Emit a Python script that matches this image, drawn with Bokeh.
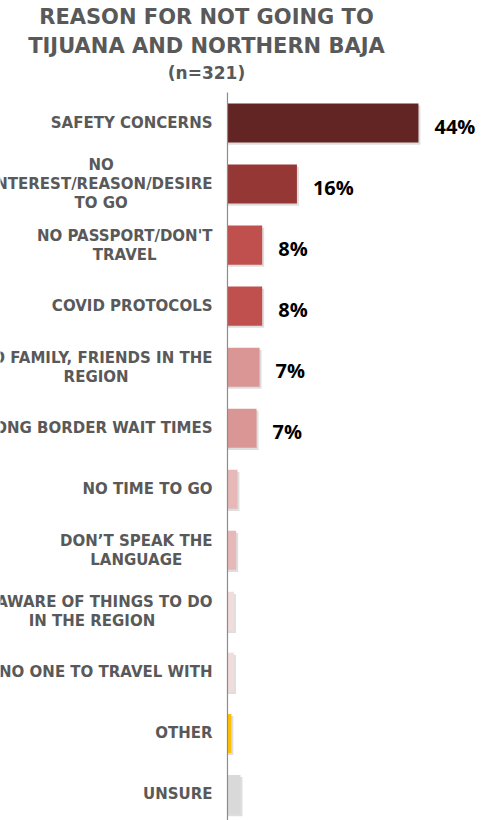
from bokeh.plotting import figure
from bokeh.models import Range1d, Label, ColumnDataSource
from bokeh.embed import file_html
from bokeh.resources import INLINE
from bokeh.core.properties import value
from bokeh.transform import dodge

# ---- data ----
categories = [
    "SAFETY CONCERNS",
    "NO\nINTEREST/REASON/DESIRE\nTO GO",
    "NO PASSPORT/DON'T\nTRAVEL",
    "COVID PROTOCOLS",
    "NO FAMILY, FRIENDS IN THE\nREGION",
    "LONG BORDER WAIT TIMES",
    "NO TIME TO GO",
    "DON\u2019T SPEAK THE\nLANGUAGE",
    "UNAWARE OF THINGS TO DO\nIN THE REGION",
    "NO ONE TO TRAVEL WITH",
    "OTHER",
    "UNSURE",
]
percent = [44, 16, 8, 8, 7.4, 6.7, 2.3, 2.0, 1.5, 1.5, 0.9, 3.0]
value_labels = ["44%", "16%", "8%", "8%", "7%", "7%", "", "", "", "", "", ""]
bar_colors = ["#632523", "#953735", "#C0504D", "#C0504D", "#D99694", "#D99694",
              "#E6B9B8", "#E6B9B8", "#F2DCDB", "#F2DCDB", "#FFC000", "#D9D9D9"]
title_lines = ["REASON FOR NOT GOING TO", "TIJUANA AND NORTHERN BAJA"]
subtitle = "(n=321)"

n = len(categories)
ys = [n - 1 - i for i in range(n)]

src = ColumnDataSource(dict(
    y=ys, v=percent, cat=categories, lbl=value_labels, color=bar_colors,
    shadow_r=[v + 0.45 for v in percent],
))

p = figure(width=490, height=820,
           x_range=Range1d(-52.3, 60.6), y_range=Range1d(-0.426, 13.007),
           output_backend="svg", toolbar_location=None,
           x_axis_type=None, y_axis_type=None,
           min_border=0)
p.grid.visible = False
p.outline_line_color = None
p.background_fill_color = "white"
p.border_fill_color = "white"

# bar shadows
p.hbar(y=dodge("y", -0.035), left=0, right="shadow_r", height=0.64,
       fill_color="#000000", fill_alpha=0.13, line_color=None, source=src)
# bars
p.hbar(y="y", left=0, right="v", height=0.64, fill_color="color",
       line_color=None, source=src)

# axis line
p.segment(x0=0, y0=-0.426, x1=0, y1=11.5, line_color="#8c8c8c", line_width=1.2)

# category labels
p.text(x=0, y="y", text="cat", x_offset=-15, anchor="center_right",
       text_align="center", text_font=value("DejaVu Sans"),
       text_font_style="bold", text_font_size="15px", text_color="#595959",
       text_line_height=1.05, source=src)

# value labels
p.text(x="v", y="y", text="lbl", x_offset=16, y_offset=3,
       text_align="left", text_baseline="middle",
       text_font=value("Open Sans"), text_font_style="bold",
       text_font_size="20px", text_color="#000000", source=src)

# title
for i, t in enumerate(title_lines):
    p.add_layout(Label(x=206, y=820 - 16 - 29 * i, x_units="screen", y_units="screen",
                       text=t, text_align="center", text_baseline="middle",
                       text_font="DejaVu Sans", text_font_style="bold",
                       text_font_size="21px", text_color="#595959"))
p.add_layout(Label(x=206, y=820 - 72, x_units="screen", y_units="screen",
                   text=subtitle, text_align="center", text_baseline="middle",
                   text_font="DejaVu Sans", text_font_style="bold",
                   text_font_size="17px", text_color="#595959"))

open("out.html", "w").write(file_html(p, INLINE))
